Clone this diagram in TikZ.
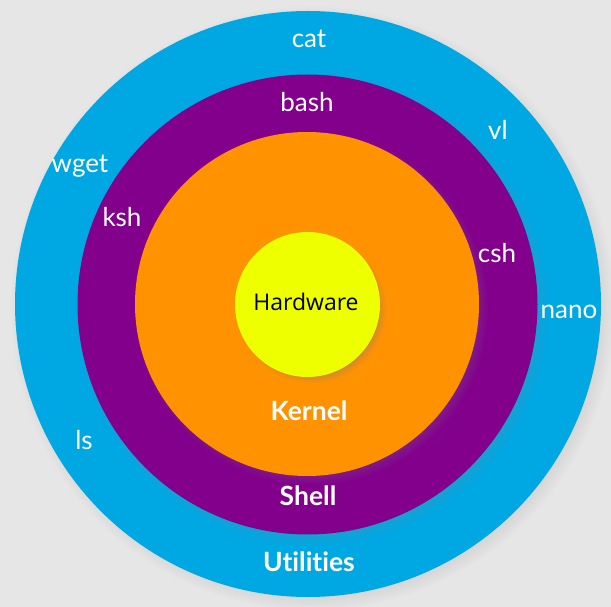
\documentclass[tikz,border=0pt]{standalone}
\usepackage{fontspec}
\setmainfont{Lato}[Ligatures=NoCommon]
\newfontfamily\hwfont{Open Sans}
\usepackage{xcolor}
\usetikzlibrary{shadows}

\definecolor{bgGray}{HTML}{E6E6E6}
\definecolor{utilBlue}{HTML}{00A8E3}
\definecolor{shellPurple}{HTML}{82008C}
\definecolor{kernelOrange}{HTML}{FF9200}
\definecolor{hwYellow}{HTML}{EEFF00}

\begin{document}
\begin{tikzpicture}[
  x=1pt, y=-1pt,
  ring/.style={circle, inner sep=0pt, draw=none,
    circular drop shadow={shadow xshift=4pt, shadow yshift=-4pt, shadow scale=1.03, opacity=.45}},
  tool/.style={text=white, font=\fontsize{26}{30}\selectfont},
  layer/.style={text=white, font=\fontsize{26.5}{30}\selectfont\bfseries}
]
  % Background
  \fill[bgGray] (0,0) rectangle (611,607);

  % Rings
  \node[ring, fill=utilBlue, minimum size=586pt] (utilities) at (308,304) {};
  \node[ring, fill=shellPurple, minimum size=460pt] (shell) at (307.5,304.5) {};
  \node[ring, fill=kernelOrange, minimum size=344pt] (kernel) at (307,304) {};
  \node[ring, fill=hwYellow, minimum size=145pt] (hardware) at (307.5,304.5) {};

  % Hardware
  \node[font=\hwfont\fontsize{23}{27}\selectfont] (hwlabel) at (306,302) {Hardware};

  % Layer names
  \node[layer] (kernellabel) at (309,411) {Kernel};
  \node[layer] (shelllabel) at (308,496) {Shell};
  \node[layer] (utillabel) at (309,562) {Utilities};

  % Shells
  \node[tool] (bash) at (307,102) {bash};
  \node[tool] (ksh) at (122,217) {ksh};
  \node[tool] (csh) at (497,253) {csh};

  % Utilities
  \node[tool] (cat) at (309,39) {cat};
  \node[tool] (vl) at (498,130) {vl};
  \node[tool] (wget) at (80,166) {wget};
  \node[tool] (nano) at (569,312) {nano};
  \node[tool] (ls) at (84,440) {ls};
\end{tikzpicture}
\end{document}
